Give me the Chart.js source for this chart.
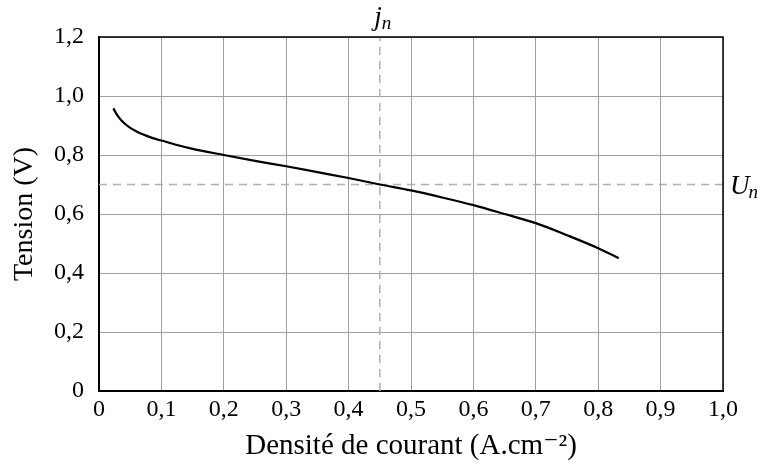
<!DOCTYPE html>
<html>
<head>
<meta charset="utf-8">
<script src="https://cdn.jsdelivr.net/npm/chart.js@4"></script>
<style>
  html, body { margin: 0; padding: 0; background: #fff; }
  canvas { display: block; }
</style>
</head>
<body>
<canvas id="grafico" width="764" height="468"></canvas>
<script>
// Courbe de polarisation
const densite = [0.023, 0.027, 0.031, 0.036, 0.042, 0.05, 0.06, 0.07, 0.085, 0.1, 0.125, 0.15, 0.2, 0.25, 0.3, 0.35, 0.4, 0.45, 0.5, 0.55, 0.6, 0.65, 0.7, 0.75, 0.8, 0.833];
const tension = [0.958, 0.943, 0.930, 0.917, 0.905, 0.892, 0.880, 0.870, 0.858, 0.849, 0.834, 0.821, 0.80, 0.78, 0.762, 0.742, 0.722, 0.70, 0.68, 0.656, 0.63, 0.60, 0.569, 0.528, 0.484, 0.45];

// Point nominal
const jn = 0.45;
const Un = 0.7;

const police = "'Liberation Serif', 'DejaVu Serif', serif";

function formatTick(v) {
    if (Math.abs(v) < 1e-9) return "0";
    return v.toFixed(1).replace(".", ",");
}

// cadre haut / droite + etiquettes j_n et U_n
const cadrePlugin = {
    id: "cadre",
    afterDatasetsDraw(chart) {
        const { ctx, chartArea: a, scales } = chart;
        ctx.save();
        ctx.strokeStyle = "#000";
        ctx.lineWidth = 1.5;
        ctx.beginPath();
        ctx.moveTo(a.left, a.top);
        ctx.lineTo(a.right, a.top);
        ctx.lineTo(a.right, a.bottom);
        ctx.stroke();

        ctx.fillStyle = "#000";
        ctx.textBaseline = "alphabetic";
        // j_n au-dessus
        const xj = scales.x.getPixelForValue(jn);
        ctx.font = "italic 27px " + police;
        ctx.textAlign = "right";
        ctx.fillText("j", xj + 2, a.top - 12);
        ctx.font = "italic 19px " + police;
        ctx.textAlign = "left";
        ctx.fillText("n", xj + 2, a.top - 8);
        // U_n a droite
        const yu = scales.y.getPixelForValue(Un);
        ctx.font = "italic 27px " + police;
        ctx.textAlign = "left";
        ctx.fillText("U", a.right + 7, yu + 9);
        const wU = ctx.measureText("U").width;
        ctx.font = "italic 19px " + police;
        ctx.fillText("n", a.right + 7 + wU - 1, yu + 13);
        ctx.restore();
    }
};

const ctx = document.getElementById("grafico").getContext("2d");
new Chart(ctx, {
    type: "line",
    data: {
        datasets: [
            {
                data: densite.map((d, i) => ({ x: d, y: tension[i] })),
                borderColor: "#000",
                borderWidth: 2.2,
                pointRadius: 0,
                cubicInterpolationMode: "monotone",
                order: 0
            },
            {
                data: [{ x: jn, y: 0 }, { x: jn, y: 1.2 }],
                borderColor: "#b0b0b0",
                borderWidth: 1.5,
                borderDash: [8, 6],
                pointRadius: 0,
                order: 1
            },
            {
                data: [{ x: 0, y: Un }, { x: 1, y: Un }],
                borderColor: "#b0b0b0",
                borderWidth: 1.5,
                borderDash: [8, 6],
                pointRadius: 0,
                order: 1
            }
        ]
    },
    options: {
        responsive: false,
        animation: false,
        layout: { padding: { top: 37, right: 41, left: 0, bottom: 0 } },
        plugins: {
            legend: { display: false },
            tooltip: { enabled: false }
        },
        scales: {
            x: {
                type: "linear",
                min: 0,
                max: 1,
                afterFit: s => { s.height = 77; },
                ticks: {
                    stepSize: 0.1,
                    padding: 4,
                    color: "#000",
                    font: { family: police, size: 24 },
                    callback: v => formatTick(v),
                    maxRotation: 0
                },
                grid: { color: "#a0a0a0", lineWidth: 1, drawTicks: false },
                border: { color: "#000", width: 2 },
                title: {
                    display: true,
                    text: "Densité de courant (A.cm⁻²)",
                    color: "#000",
                    font: { family: police, size: 29 },
                    padding: { top: 0, bottom: 4 }
                }
            },
            y: {
                min: 0,
                max: 1.2,
                afterFit: s => { s.width = 99; },
                ticks: {
                    stepSize: 0.2,
                    padding: 15,
                    color: "#000",
                    font: { family: police, size: 24 },
                    callback: v => formatTick(v)
                },
                grid: { color: "#a0a0a0", lineWidth: 1, drawTicks: false },
                border: { color: "#000", width: 2 },
                title: {
                    display: true,
                    text: "Tension (V)",
                    color: "#000",
                    font: { family: police, size: 28 },
                    padding: { top: 8, bottom: 0 }
                }
            }
        }
    },
    plugins: [cadrePlugin]
});
</script>
</body>
</html>
